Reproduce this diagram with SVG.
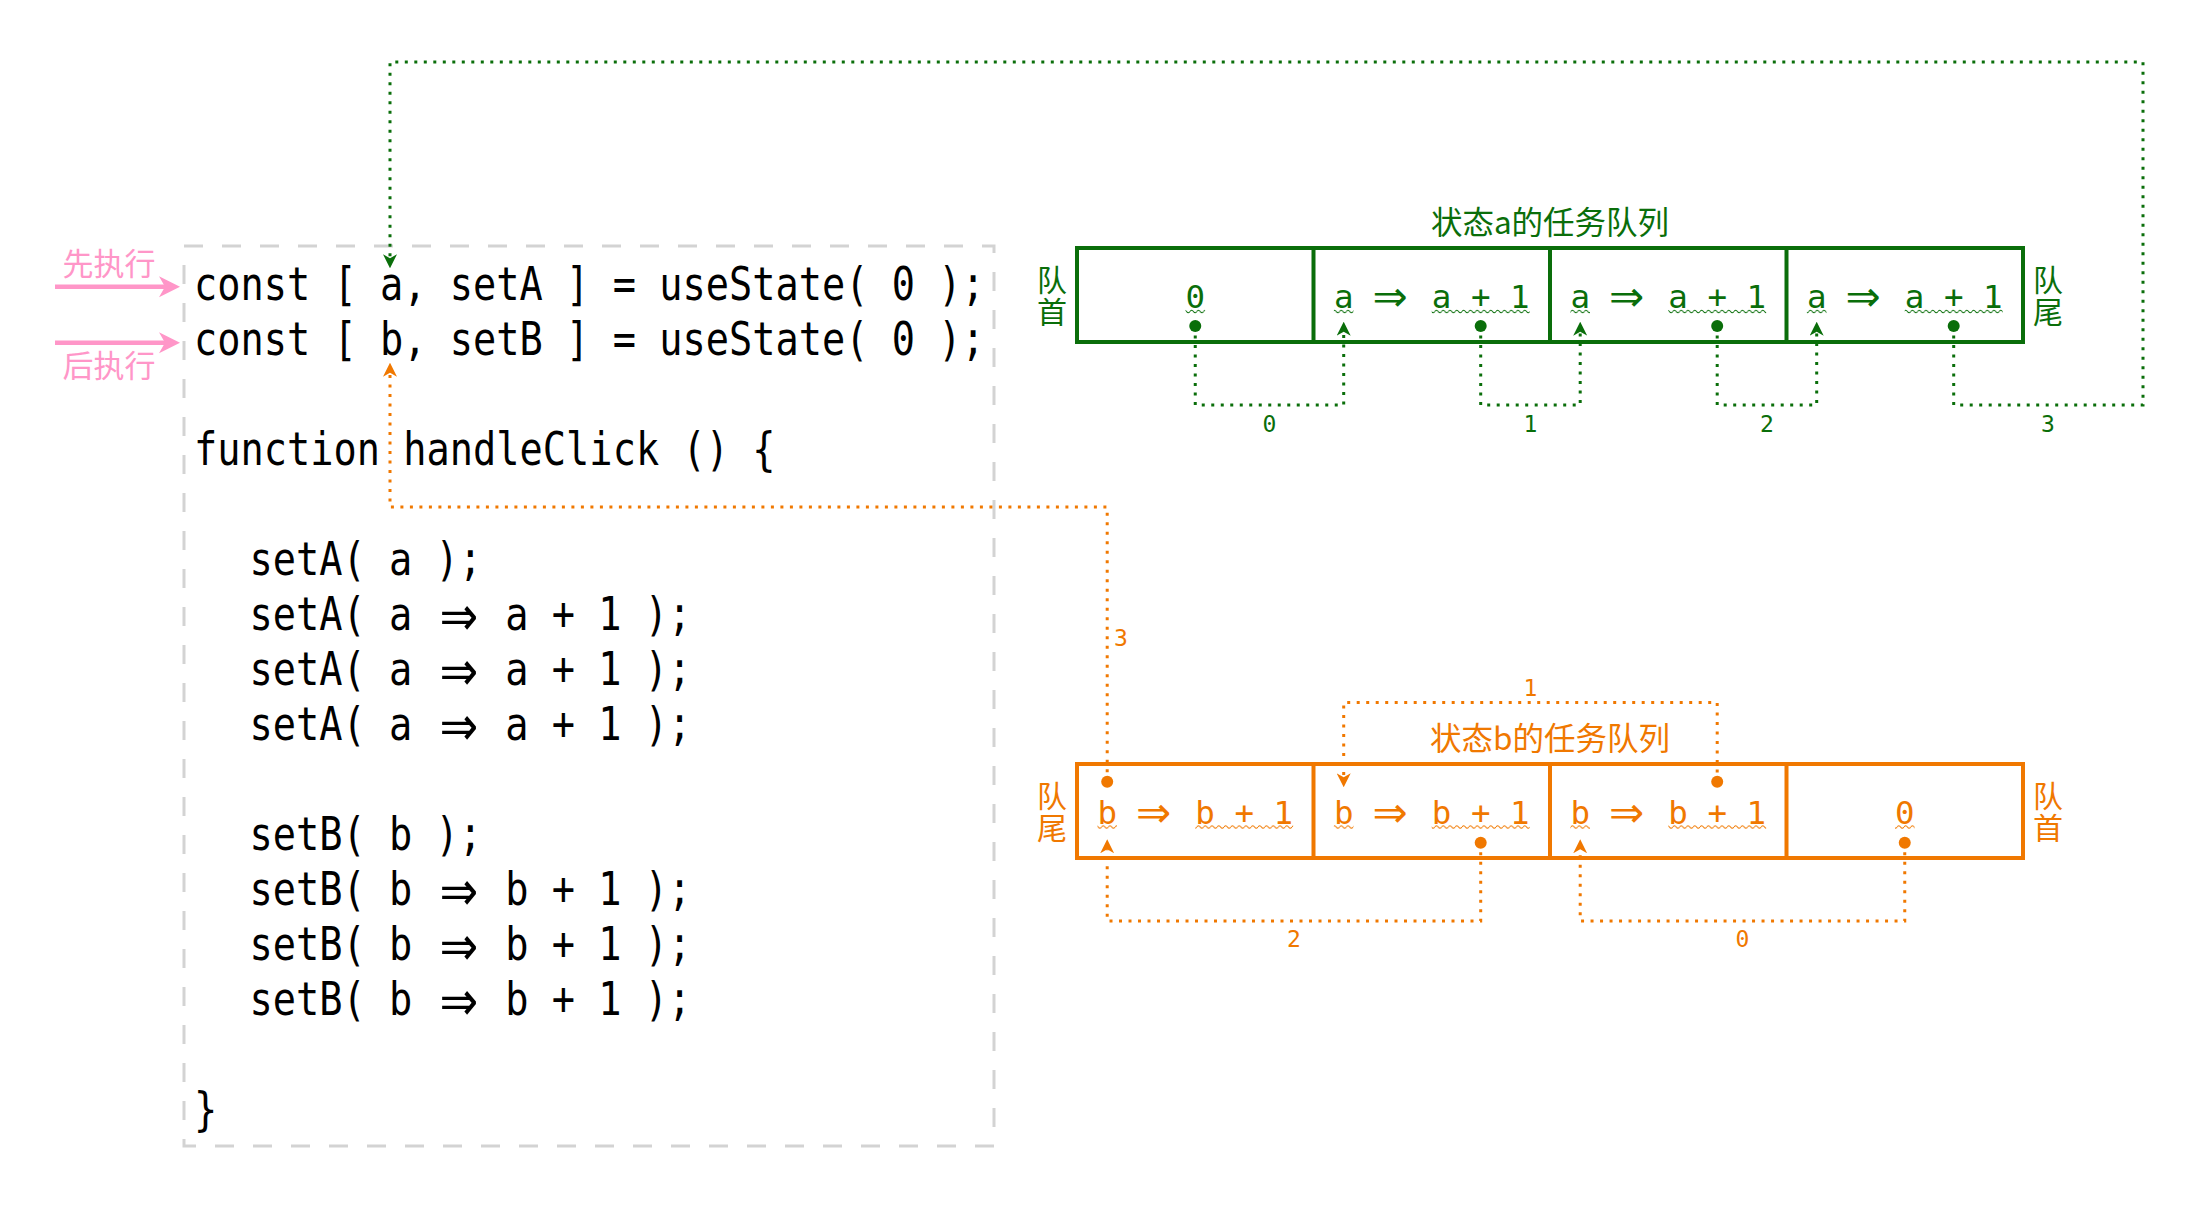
<svg xmlns="http://www.w3.org/2000/svg" width="2202" height="1210" viewBox="0 0 2202 1210">
  <style>
    .code { font-family: "DejaVu Sans Mono", monospace; font-size: 46px; fill: #000; }
    .cell { font-family: "DejaVu Sans Mono", monospace; font-size: 32.5px; }
    .arr { font-family: "DejaVu Sans", sans-serif; }
    .num { font-family: "DejaVu Sans Mono", monospace; font-size: 23px; text-anchor: middle; }
    .cjk { font-family: "Noto Sans CJK SC", sans-serif; }
    .title { font-size: 31.5px; text-anchor: middle; }
    .side { font-size: 30px; writing-mode: vertical-rl; letter-spacing: 1.6px; }
    .pink { fill: #ff96c8; font-size: 31px; text-anchor: middle; }
    .g { fill: #0a6e0a; }
    .o { fill: #f07800; }
    .boxA { fill: none; stroke: #0a6e0a; stroke-width: 4; }
    .boxB { fill: none; stroke: #f07800; stroke-width: 4; }
    .linkA { fill: none; stroke: #0a6e0a; stroke-width: 3; stroke-dasharray: 3 6.5; marker-end: url(#arrowA); }
    .linkB { fill: none; stroke: #f07800; stroke-width: 3; stroke-dasharray: 3 6.5; marker-end: url(#arrowB); }
  </style>
  <defs>
    <marker id="arrowA" viewBox="0 0 14 14" refX="4" refY="7" markerWidth="14" markerHeight="14" markerUnits="userSpaceOnUse" orient="auto">
      <path d="M0,0 L14,7 L0,14 L4,7 Z" fill="#0a6e0a"/>
    </marker>
    <marker id="arrowB" viewBox="0 0 14 14" refX="4" refY="7" markerWidth="14" markerHeight="14" markerUnits="userSpaceOnUse" orient="auto">
      <path d="M0,0 L14,7 L0,14 L4,7 Z" fill="#f07800"/>
    </marker>
    <!-- squiggly underline tiles, one wave row for each queue -->
    <pattern id="waveA" width="6.8" height="1210" patternUnits="userSpaceOnUse">
      <path d="M0,311.5 Q1.7,308.8 3.4,311.5 T6.8,311.5" fill="none" stroke="#0a6e0a" stroke-width="1"/>
    </pattern>
    <pattern id="waveB" width="6.8" height="1210" patternUnits="userSpaceOnUse">
      <path d="M0,827 Q1.7,824.3 3.4,827 T6.8,827" fill="none" stroke="#f07800" stroke-width="1"/>
    </pattern>
  </defs>

  <rect width="2202" height="1210" fill="#fff"/>

  <!-- source code panel; the glyphs are narrowed to a 23px cell -->
  <g id="code-panel">
    <rect x="184" y="246" width="810" height="900" fill="none" stroke="#d3d3d3" stroke-width="3" stroke-dasharray="19 19"/>
    <g transform="translate(194 0) scale(0.84 1)" class="code">
      <text x="0" y="300.3">const [ a, setA ] = useState( 0 );</text>
      <text x="0" y="355.3">const [ b, setB ] = useState( 0 );</text>
      <text x="0" y="465.3">function handleClick () {</text>
      <text x="66" y="575.3">setA( a );</text>
      <text x="66" y="630.3">setA( a <tspan class="arr" font-size="55" x="292.2" dy="5">⇒</tspan><tspan x="370.6" dy="-5">a + 1 );</tspan></text>
      <text x="66" y="685.3">setA( a <tspan class="arr" font-size="55" x="292.2" dy="5">⇒</tspan><tspan x="370.6" dy="-5">a + 1 );</tspan></text>
      <text x="66" y="740.3">setA( a <tspan class="arr" font-size="55" x="292.2" dy="5">⇒</tspan><tspan x="370.6" dy="-5">a + 1 );</tspan></text>
      <text x="66" y="850.3">setB( b );</text>
      <text x="66" y="905.3">setB( b <tspan class="arr" font-size="55" x="292.2" dy="5">⇒</tspan><tspan x="370.6" dy="-5">b + 1 );</tspan></text>
      <text x="66" y="960.3">setB( b <tspan class="arr" font-size="55" x="292.2" dy="5">⇒</tspan><tspan x="370.6" dy="-5">b + 1 );</tspan></text>
      <text x="66" y="1015.3">setB( b <tspan class="arr" font-size="55" x="292.2" dy="5">⇒</tspan><tspan x="370.6" dy="-5">b + 1 );</tspan></text>
      <text x="0" y="1125.3">}</text>
    </g>
  </g>

  <!-- execution order markers -->
  <g id="order-first">
    <text class="cjk pink" x="109" y="275">先执行</text>
    <path d="M55,286.7 H166" stroke="#ff96c8" stroke-width="4.5"/>
    <path d="M180,286.7 L159,276.2 L165,286.7 L159,297.2 Z" fill="#ff96c8"/>
  </g>
  <g id="order-second">
    <path d="M55,342.7 H166" stroke="#ff96c8" stroke-width="4.5"/>
    <path d="M180,342.7 L159,332.2 L165,342.7 L159,353.2 Z" fill="#ff96c8"/>
    <text class="cjk pink" x="109" y="377">后执行</text>
  </g>

  <!-- queue of updates for state a -->
  <g id="queue-a">
    <text class="cjk title g" x="1550" y="234">状态a的任务队列</text>
    <rect class="boxA" x="1077" y="248" width="946" height="94"/>
    <path d="M1313.5,248 V342 M1550,248 V342 M1786.5,248 V342" stroke="#0a6e0a" stroke-width="4"/>
    <text class="cjk side g" x="1052" y="265">队首</text>
    <text class="cjk side g" x="2048" y="265">队尾</text>
    <text class="cell g" x="1195.25" y="308.3" text-anchor="middle">0</text>
    <text class="cell g" x="1333.9" y="308.3">a <tspan class="arr" font-size="42" x="1372.5" dy="3">⇒</tspan><tspan x="1431.75" dy="-3">a + 1</tspan></text>
    <text class="cell g" x="1570.4" y="308.3">a <tspan class="arr" font-size="42" x="1609" dy="3">⇒</tspan><tspan x="1668.25" dy="-3">a + 1</tspan></text>
    <text class="cell g" x="1806.9" y="308.3">a <tspan class="arr" font-size="42" x="1845.5" dy="3">⇒</tspan><tspan x="1904.75" dy="-3">a + 1</tspan></text>
    <g fill="url(#waveA)">
      <rect x="1185.5" y="307.5" width="19.6" height="8"/>
      <rect x="1333.9" y="307.5" width="19.6" height="8"/>
      <rect x="1431.75" y="307.5" width="97.9" height="8"/>
      <rect x="1570.4" y="307.5" width="19.6" height="8"/>
      <rect x="1668.25" y="307.5" width="97.9" height="8"/>
      <rect x="1806.9" y="307.5" width="19.6" height="8"/>
      <rect x="1904.75" y="307.5" width="97.9" height="8"/>
    </g>
  </g>

  <!-- queue of updates for state b -->
  <g id="queue-b">
    <text class="cjk title o" x="1550" y="750">状态b的任务队列</text>
    <rect class="boxB" x="1077" y="764" width="946" height="94"/>
    <path d="M1313.5,764 V858 M1550,764 V858 M1786.5,764 V858" stroke="#f07800" stroke-width="4"/>
    <text class="cjk side o" x="1052" y="781">队尾</text>
    <text class="cjk side o" x="2048" y="781">队首</text>
    <text class="cell o" x="1097.4" y="823.5">b <tspan class="arr" font-size="42" x="1136" dy="3">⇒</tspan><tspan x="1195.25" dy="-3">b + 1</tspan></text>
    <text class="cell o" x="1333.9" y="823.5">b <tspan class="arr" font-size="42" x="1372.5" dy="3">⇒</tspan><tspan x="1431.75" dy="-3">b + 1</tspan></text>
    <text class="cell o" x="1570.4" y="823.5">b <tspan class="arr" font-size="42" x="1609" dy="3">⇒</tspan><tspan x="1668.25" dy="-3">b + 1</tspan></text>
    <text class="cell o" x="1904.75" y="823.5" text-anchor="middle">0</text>
    <g fill="url(#waveB)">
      <rect x="1097.4" y="823" width="19.6" height="8"/>
      <rect x="1195.25" y="823" width="97.9" height="8"/>
      <rect x="1333.9" y="823" width="19.6" height="8"/>
      <rect x="1431.75" y="823" width="97.9" height="8"/>
      <rect x="1570.4" y="823" width="19.6" height="8"/>
      <rect x="1668.25" y="823" width="97.9" height="8"/>
      <rect x="1895" y="823" width="19.6" height="8"/>
    </g>
  </g>

  <!-- order in which the queued updates are applied -->
  <g id="connectors">
    <path class="linkA" d="M1195.25,326 V405 H1343.7 V331.7"/>
    <path class="linkA" d="M1480.7,326 V405 H1580.2 V331.7"/>
    <path class="linkA" d="M1717.2,326 V405 H1816.7 V331.7"/>
    <path class="linkA" d="M1953.7,326 V405 H2143 V62 H390 V258.3"/>
    <path class="linkB" d="M1904.75,842.7 V921 H1580.2 V849.3"/>
    <path class="linkB" d="M1480.7,842.7 V921 H1107.2 V849.3"/>
    <path class="linkB" d="M1717.2,782 V702.5 H1343.7 V777.3"/>
    <path class="linkB" d="M1107.2,781.7 V507 H390 V372.7"/>
    <g class="g">
      <circle cx="1195.25" cy="326" r="6"/>
      <circle cx="1480.7" cy="326" r="6"/>
      <circle cx="1717.2" cy="326" r="6"/>
      <circle cx="1953.7" cy="326" r="6"/>
    </g>
    <g class="o">
      <circle cx="1107.2" cy="781.7" r="6"/>
      <circle cx="1717.2" cy="781.7" r="6"/>
      <circle cx="1480.7" cy="842.7" r="6"/>
      <circle cx="1904.75" cy="842.7" r="6"/>
    </g>
    <g class="num g">
      <text x="1269.5" y="432">0</text>
      <text x="1530.5" y="432">1</text>
      <text x="1767" y="432">2</text>
      <text x="2048" y="432">3</text>
    </g>
    <g class="num o">
      <text x="1742.5" y="947">0</text>
      <text x="1530.5" y="696">1</text>
      <text x="1294" y="947">2</text>
      <text x="1121" y="646">3</text>
    </g>
  </g>
</svg>
